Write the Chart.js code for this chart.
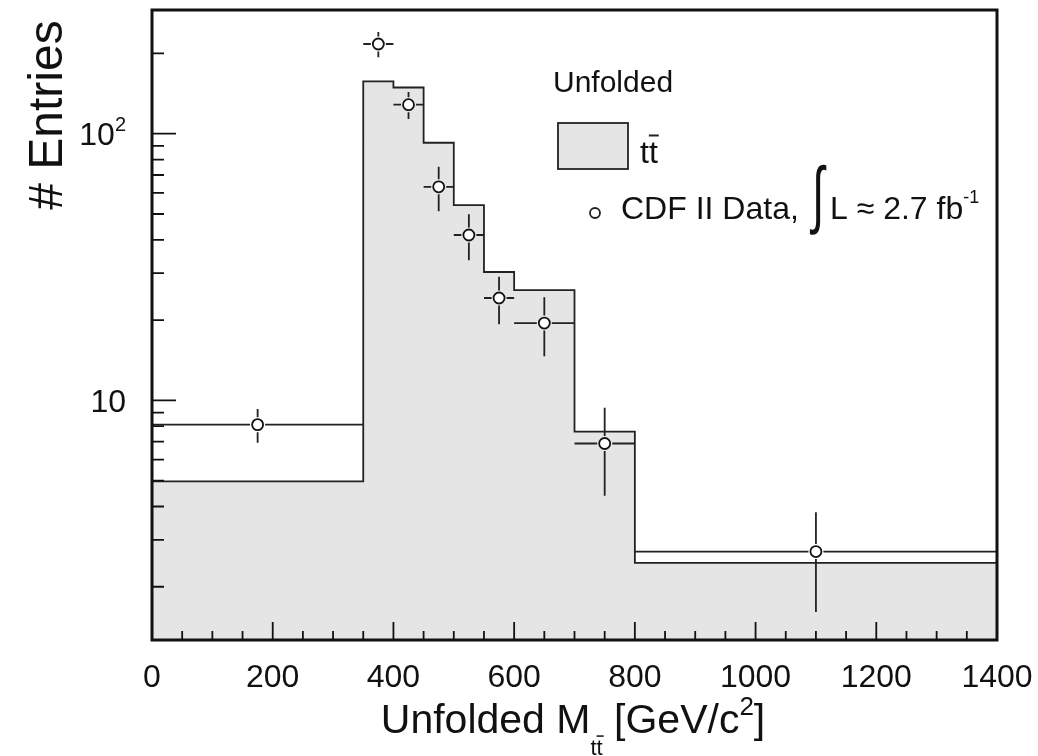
<!DOCTYPE html>
<html>
<head>
<meta charset="utf-8">
<script src="https://cdn.jsdelivr.net/npm/chart.js@4.4.1/dist/chart.umd.min.js"></script>
<style>
  body { margin: 0; background: #fff; }
  canvas { display: block; }
</style>
</head>
<body>
<canvas id="chart" width="1038" height="756"></canvas>
<script>
// bins of the unfolded M_tt distribution (GeV/c^2)
const binEdges = [0, 350, 400, 450, 500, 550, 600, 700, 800, 1400];
const ttbarMC = [4.97, 157, 149, 92.5, 54, 30.3, 25.9, 7.64, 2.46];
// CDF II data points, one per bin
const dataCenters = [175, 375, 425, 475, 525, 575, 650, 750, 1100];
const dataValues = [8.11, 217, 128.5, 63.2, 41.7, 24.2, 19.5, 6.89, 2.71];
const dataErrors = [1.18, 23.5, 15, 12, 8.2, 4.9, 4.85, 2.5, 1.1];
// axis ticks
const xTickLabels = [0, 200, 400, 600, 800, 1000, 1200, 1400];
const yMajorTicks = [10, 100];
const yMinorTicks = [2, 3, 4, 5, 6, 7, 8, 9, 20, 30, 40, 50, 60, 70, 80, 90, 200];
const yMin = 1.263, yMax = 291;

const FONT = '"Liberation Sans", Arial, sans-serif';
const INK = '#111';

function rich(ctx, segs, x, y, align) {
  let total = 0;
  segs.forEach(s => {
    ctx.font = s.f + 'px ' + FONT;
    s.w = ctx.measureText(s.t).width;
    total += s.w;
  });
  let cx = align === 'center' ? x - total / 2 : align === 'right' ? x - total : x;
  ctx.textAlign = 'left';
  ctx.textBaseline = 'alphabetic';
  segs.forEach(s => {
    ctx.font = s.f + 'px ' + FONT;
    const yy = y + (s.dy || 0);
    ctx.fillText(s.t, cx, yy);
    if (s.bar) {
      ctx.beginPath();
      ctx.moveTo(cx, yy - 0.86 * s.f);
      ctx.lineTo(cx + s.w + 1, yy - 0.86 * s.f);
      ctx.stroke();
    }
    cx += s.w;
  });
}

const errorBars = {
  id: 'errorBars',
  beforeDatasetDraw(chart, args) {
    if (args.index !== 1) return;
    const ctx = chart.ctx, xs = chart.scales.x, ys = chart.scales.y;
    const gap = 7.5;
    ctx.save();
    ctx.strokeStyle = '#222';
    ctx.lineWidth = 1.8;
    dataCenters.forEach((c, i) => {
      const px = xs.getPixelForValue(c), py = ys.getPixelForValue(dataValues[i]);
      const xl = xs.getPixelForValue(binEdges[i]), xr = xs.getPixelForValue(binEdges[i + 1]);
      const yt = ys.getPixelForValue(dataValues[i] + dataErrors[i]);
      const yb = ys.getPixelForValue(dataValues[i] - dataErrors[i]);
      ctx.beginPath();
      if (px - gap > xl) { ctx.moveTo(xl, py); ctx.lineTo(px - gap, py); }
      if (xr > px + gap) { ctx.moveTo(px + gap, py); ctx.lineTo(xr, py); }
      if (py - gap > yt) { ctx.moveTo(px, yt); ctx.lineTo(px, py - gap); }
      if (yb > py + gap) { ctx.moveTo(px, py + gap); ctx.lineTo(px, yb); }
      ctx.stroke();
    });
    ctx.restore();
  }
};

const frame = {
  id: 'frame',
  afterDraw(chart) {
    const ctx = chart.ctx, xs = chart.scales.x, ys = chart.scales.y;
    const a = chart.chartArea;
    ctx.save();
    ctx.strokeStyle = INK;
    ctx.fillStyle = INK;

    // ticks
    ctx.lineWidth = 1.8;
    ctx.beginPath();
    for (let v = 0; v <= 1400; v += 50) {
      const px = xs.getPixelForValue(v);
      const len = v % 200 === 0 ? 18 : 9;
      ctx.moveTo(px, a.bottom);
      ctx.lineTo(px, a.bottom - len);
    }
    yMajorTicks.forEach(v => {
      const py = ys.getPixelForValue(v);
      ctx.moveTo(a.left, py); ctx.lineTo(a.left + 24, py);
    });
    yMinorTicks.forEach(v => {
      const py = ys.getPixelForValue(v);
      ctx.moveTo(a.left, py); ctx.lineTo(a.left + 12, py);
    });
    ctx.stroke();

    // frame
    ctx.lineWidth = 3;
    ctx.strokeRect(a.left, a.top, a.right - a.left, a.bottom - a.top);

    // x tick labels
    ctx.font = '32px ' + FONT;
    ctx.textAlign = 'center';
    ctx.textBaseline = 'alphabetic';
    xTickLabels.forEach(v => ctx.fillText(String(v), xs.getPixelForValue(v), 687));

    // y tick labels
    rich(ctx, [{ t: '10', f: 32 }], 126, ys.getPixelForValue(10) + 11.5, 'right');
    rich(ctx, [{ t: '10', f: 32 }, { t: '2', f: 20, dy: -14 }], 126, ys.getPixelForValue(100) + 11.5, 'right');

    // axis titles
    ctx.lineWidth = 1.5;
    rich(ctx, [
      { t: 'Unfolded M', f: 41 },
      { t: 't', f: 22, dy: 22 },
      { t: 't', f: 22, dy: 22, bar: true },
      { t: ' [GeV/c', f: 41 },
      { t: '2', f: 26, dy: -18 },
      { t: ']', f: 41 }
    ], 573, 733, 'center');

    ctx.save();
    ctx.translate(62, 115);
    ctx.rotate(-Math.PI / 2);
    ctx.font = '48px ' + FONT;
    ctx.textAlign = 'center';
    ctx.fillText('# Entries', 0, 0);
    ctx.restore();

    // legend
    rich(ctx, [{ t: 'Unfolded', f: 30 }], 553, 92, 'left');
    ctx.fillStyle = '#e5e5e5';
    ctx.fillRect(558, 123, 70, 46);
    ctx.lineWidth = 1.8;
    ctx.strokeStyle = '#222';
    ctx.strokeRect(558, 123, 70, 46);
    ctx.fillStyle = INK;
    ctx.lineWidth = 2;
    rich(ctx, [{ t: 't', f: 32 }, { t: 't', f: 32, bar: true }], 640, 163, 'left');

    ctx.lineWidth = 1.8;
    ctx.beginPath();
    ctx.arc(595, 213, 5, 0, Math.PI * 2);
    ctx.fillStyle = '#fff';
    ctx.fill();
    ctx.stroke();
    ctx.fillStyle = INK;

    rich(ctx, [{ t: 'CDF II Data,', f: 32 }], 621, 219, 'left');
    ctx.save();
    ctx.translate(818, 219);
    ctx.scale(0.6, 1);
    ctx.font = '74px ' + FONT;
    ctx.textAlign = 'center';
    ctx.fillText('\u222B', 0, 0);
    ctx.restore();
    rich(ctx, [{ t: 'L \u2248 2.7 fb', f: 32 }, { t: '-1', f: 18, dy: -16 }], 830, 219, 'left');

    ctx.restore();
  }
};

const mcPoints = binEdges.map((e, i) => ({ x: e, y: ttbarMC[Math.min(i, ttbarMC.length - 1)] }));
const dataPoints = dataCenters.map((c, i) => ({ x: c, y: dataValues[i] }));

new Chart(document.getElementById('chart'), {
  type: 'line',
  data: {
    datasets: [{
      label: 'tt',
      data: mcPoints,
      stepped: 'before',
      fill: 'start',
      order: 1,
      backgroundColor: '#e5e5e5',
      borderColor: '#222',
      borderWidth: 1.8,
      pointRadius: 0
    }, {
      label: 'CDF II Data',
      data: dataPoints,
      showLine: false,
      order: 0,
      pointRadius: 5.5,
      pointBackgroundColor: '#fff',
      pointBorderColor: '#111',
      pointBorderWidth: 1.8
    }]
  },
  options: {
    responsive: false,
    animation: false,
    devicePixelRatio: 1,
    layout: { padding: { left: 152, top: 10, right: 41, bottom: 116 } },
    plugins: { legend: { display: false }, tooltip: { enabled: false } },
    scales: {
      x: { type: 'linear', min: 0, max: 1400, display: false },
      y: { type: 'logarithmic', min: yMin, max: yMax, display: false }
    }
  },
  plugins: [errorBars, frame]
});
</script>
</body>
</html>
